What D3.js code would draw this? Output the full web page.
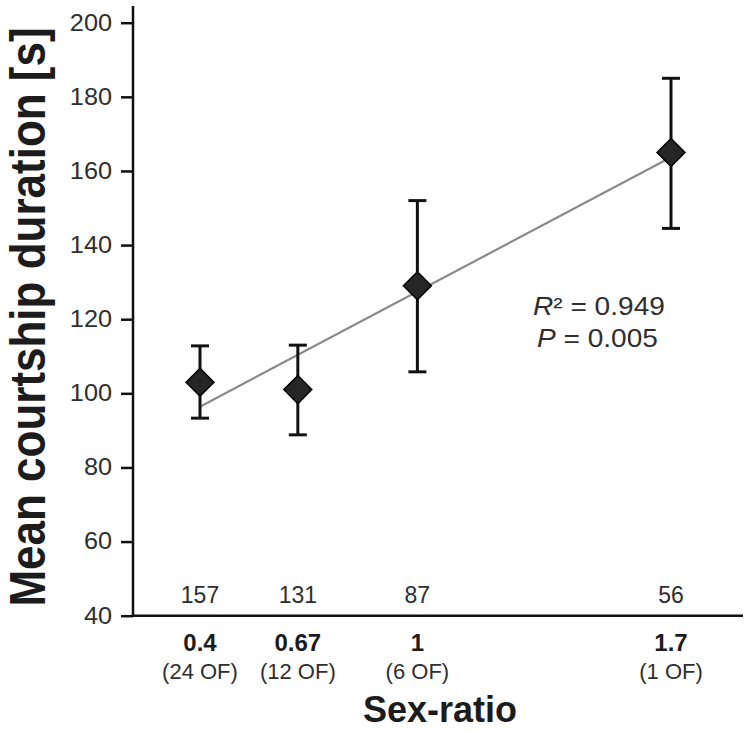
<!DOCTYPE html>
<html>
<head>
<meta charset="utf-8">
<script src="https://cdn.jsdelivr.net/npm/d3@7"></script>
<style>
  html, body { margin: 0; padding: 0; background: #fff; }
  svg { display: block; font-family: "Liberation Sans", Arial, sans-serif; }
</style>
</head>
<body>
<svg id="chart" width="750" height="731"></svg>
<script>
// ---- data ----
const sexRatio   = [0.4, 0.67, 1, 1.7];
const ratioLabel = ["0.4", "0.67", "1", "1.7"];
const ofLabel    = ["(24 OF)", "(12 OF)", "(6 OF)", "(1 OF)"];
const meanDur    = [103, 101, 129, 165];
const errLow     = [93.3, 88.8, 105.8, 144.5];
const errHigh    = [112.8, 113, 152, 185];
const nCount     = ["157", "131", "87", "56"];
const yTicks     = [40, 60, 80, 100, 120, 140, 160, 180, 200];
const regX       = [0.4, 1.7];
const regY       = [96.4, 163.7];
const statsText  = ["R² = 0.949", "P = 0.005"];

// ---- layout ----
const svg = d3.select("#chart");
const x = d3.scaleLinear().domain([0.4, 1.7]).range([200, 671]);
const y = d3.scaleLinear().domain([40, 200]).range([615.7, 22.7]);
const axisX0 = 133, axisXEnd = 743, axisTop = 6;
const ink = "#1c1c1c", soft = "#2e2e2e";

// y axis
const yAxis = d3.axisLeft(y).tickValues(yTicks).tickSize(12).tickPadding(9).tickFormat(d3.format("d"));
const gy = svg.append("g").attr("transform", `translate(${axisX0},0)`).call(yAxis);
gy.select(".domain").remove();
gy.selectAll(".tick line").attr("stroke", "#111").attr("stroke-width", 2.5);
gy.selectAll(".tick text")
  .attr("font-size", 23).attr("fill", soft)
  .attr("font-family", "'Liberation Sans', Arial, sans-serif")
  .attr("transform", "translate(-21,0) scale(1.1,1) translate(21,0)");
svg.append("line").attr("x1", axisX0).attr("x2", axisX0)
  .attr("y1", axisTop).attr("y2", y(40) + 1.25)
  .attr("stroke", "#111").attr("stroke-width", 2.5);
// x axis line
svg.append("line").attr("x1", axisX0 - 1.25).attr("x2", axisXEnd)
  .attr("y1", y(40)).attr("y2", y(40))
  .attr("stroke", "#111").attr("stroke-width", 2.5);

// regression line
svg.append("line")
  .attr("x1", x(regX[0])).attr("y1", y(regY[0]))
  .attr("x2", x(regX[1])).attr("y2", y(regY[1]))
  .attr("stroke", "#8a8a8a").attr("stroke-width", 2.2);

// error bars
const pts = sexRatio.map((s, i) => ({s, m: meanDur[i], lo: errLow[i], hi: errHigh[i]}));
const eb = svg.append("g").attr("stroke", "#111").attr("stroke-width", 3).attr("fill", "none");
pts.forEach(p => {
  eb.append("line").attr("x1", x(p.s)).attr("x2", x(p.s)).attr("y1", y(p.lo)).attr("y2", y(p.hi));
  eb.append("line").attr("x1", x(p.s) - 9).attr("x2", x(p.s) + 9).attr("y1", y(p.lo)).attr("y2", y(p.lo));
  eb.append("line").attr("x1", x(p.s) - 9).attr("x2", x(p.s) + 9).attr("y1", y(p.hi)).attr("y2", y(p.hi));
});

// diamonds
const sym = d3.symbol().type(d3.symbolSquare).size(390);
svg.append("g").selectAll("path").data(pts).join("path")
  .attr("d", sym)
  .attr("transform", d => `translate(${x(d.s)},${y(d.m)}) rotate(45)`)
  .attr("fill", "#262626").attr("stroke", "#000").attr("stroke-width", 1.5);

// counts above the axis
svg.append("g").selectAll("text").data(nCount).join("text")
  .attr("x", (d, i) => x(sexRatio[i])).attr("y", 603)
  .attr("text-anchor", "middle").attr("font-size", 23).attr("fill", soft)
  .text(d => d);

// category labels
svg.append("g").selectAll("text").data(ratioLabel).join("text")
  .attr("x", (d, i) => x(sexRatio[i])).attr("y", 651)
  .attr("text-anchor", "middle").attr("font-size", 24).attr("font-weight", "bold").attr("fill", ink)
  .text(d => d);
svg.append("g").selectAll("text").data(ofLabel).join("text")
  .attr("x", (d, i) => x(sexRatio[i])).attr("y", 679)
  .attr("text-anchor", "middle").attr("font-size", 22).attr("fill", soft)
  .text(d => d);

// axis titles
svg.append("text").attr("x", 440).attr("y", 722)
  .attr("text-anchor", "middle").attr("font-size", 36).attr("font-weight", "bold").attr("fill", ink)
  .text("Sex-ratio");
svg.append("text")
  .attr("transform", "translate(45,317) scale(1.15,1) rotate(-90)")
  .attr("text-anchor", "middle").attr("font-size", 44).attr("font-weight", "bold").attr("fill", ink)
  .text("Mean courtship duration [s]");

// stats annotation
const st = svg.append("g").attr("font-size", 26).attr("fill", soft);
[0, 1].forEach(i => {
  const t = st.append("text")
    .attr("transform", `translate(${i === 0 ? 533 : 537},${i === 0 ? 315 : 347}) scale(1.08,1)`);
  const parts = statsText[i].split(" = ");
  const head = parts[0];
  t.append("tspan").attr("font-style", "italic").text(head.charAt(0));
  t.append("tspan").text(head.slice(1) + " = " + parts[1]);
});
</script>
</body>
</html>
